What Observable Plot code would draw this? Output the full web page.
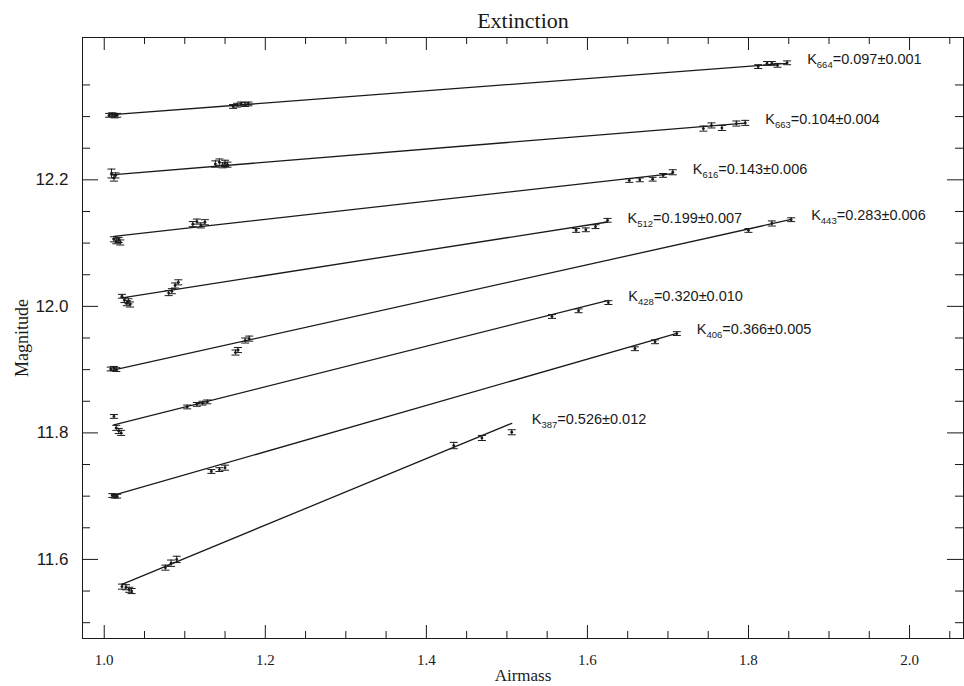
<!DOCTYPE html>
<html>
<head>
<meta charset="utf-8">
<script src="https://cdn.jsdelivr.net/npm/d3@7"></script>
<script src="https://cdn.jsdelivr.net/npm/@observablehq/plot@0.6"></script>
<style>
  body { margin: 0; background: #fff; }
  #chart svg { display: block; }
</style>
</head>
<body>
<div id="chart"></div>
<script>
// Filter bands (nm), fitted extinction coefficients and their errors
const bands = ["664", "663", "616", "512", "443", "428", "406", "387"];
const slopes = [0.097, 0.104, 0.143, 0.199, 0.283, 0.320, 0.366, 0.526];
const slopeErrors = [0.001, 0.004, 0.006, 0.007, 0.006, 0.010, 0.005, 0.012];
// Magnitude of each fitted line at airmass 1.0
const zeroPoints = [12.302, 12.207, 12.109, 12.009, 11.896, 11.809, 11.697, 11.549];

// Observations per band: [airmass, magnitude, 1-sigma error]
const obs664 = [[1.006, 12.302, .003], [1.010, 12.303, .003], [1.013, 12.301, .003], [1.016, 12.302, .003],
  [1.160, 12.316, .003], [1.165, 12.318, .003], [1.170, 12.320, .003], [1.175, 12.319, .003], [1.179, 12.320, .003],
  [1.812, 12.379, .003], [1.823, 12.384, .003], [1.829, 12.384, .003], [1.836, 12.381, .003], [1.848, 12.385, .003]];
const obs663 = [[1.009, 12.210, .007], [1.012, 12.203, .005], [1.014, 12.207, .004],
  [1.138, 12.225, .005], [1.143, 12.228, .005], [1.147, 12.223, .004], [1.150, 12.226, .005], [1.153, 12.224, .004],
  [1.744, 12.281, .004], [1.754, 12.286, .004], [1.767, 12.282, .004], [1.785, 12.289, .004], [1.796, 12.290, .004]];
const obs616 = [[1.012, 12.106, .004], [1.015, 12.103, .004], [1.018, 12.105, .004], [1.020, 12.101, .004],
  [1.110, 12.130, .004], [1.115, 12.134, .004], [1.120, 12.128, .004], [1.125, 12.133, .004],
  [1.652, 12.199, .003], [1.665, 12.200, .003], [1.681, 12.201, .003], [1.694, 12.207, .003], [1.706, 12.212, .004]];
const obs512 = [[1.022, 12.016, .003], [1.025, 12.010, .004], [1.028, 12.005, .004], [1.030, 12.008, .004], [1.032, 12.003, .004],
  [1.080, 12.021, .004], [1.084, 12.024, .004], [1.088, 12.033, .004], [1.092, 12.038, .004],
  [1.586, 12.120, .003], [1.598, 12.121, .003], [1.610, 12.126, .003], [1.625, 12.136, .003]];
const obs443 = [[1.008, 11.901, .003], [1.012, 11.902, .003], [1.015, 11.900, .003],
  [1.163, 11.927, .004], [1.166, 11.931, .004], [1.175, 11.946, .004], [1.180, 11.949, .004],
  [1.800, 12.120, .003], [1.829, 12.131, .004], [1.853, 12.137, .003]];
const obs428 = [[1.012, 11.826, .003], [1.015, 11.808, .004], [1.018, 11.803, .004], [1.021, 11.800, .004],
  [1.103, 11.841, .003], [1.115, 11.845, .003], [1.122, 11.847, .003], [1.128, 11.849, .003],
  [1.556, 11.984, .003], [1.589, 11.993, .003], [1.626, 12.006, .003]];
const obs406 = [[1.010, 11.701, .003], [1.013, 11.700, .003], [1.016, 11.700, .003],
  [1.133, 11.739, .003], [1.143, 11.742, .003], [1.150, 11.745, .004],
  [1.659, 11.933, .003], [1.684, 11.944, .003], [1.711, 11.957, .003]];
const obs387 = [[1.022, 11.557, .004], [1.027, 11.556, .004], [1.031, 11.552, .004], [1.034, 11.550, .004],
  [1.076, 11.587, .004], [1.083, 11.594, .005], [1.090, 11.600, .005],
  [1.434, 11.780, .005], [1.469, 11.792, .004], [1.506, 11.801, .004]];
const observations = [obs664, obs663, obs616, obs512, obs443, obs428, obs406, obs387];

// Axis tick labels
const xTicks = [1.0, 1.2, 1.4, 1.6, 1.8, 2.0];
const yTicks = [11.6, 11.8, 12.0, 12.2];

// ---- layout ----
const W = 964, H = 686;
const M = {top: 37, right: 1, bottom: 48, left: 82};
const frameW = W - M.left - M.right, frameH = H - M.top - M.bottom;
const ink = "#1a1a1a";
const sans = "'Liberation Sans', Arial, sans-serif";
const serif = "'Liberation Serif', 'Times New Roman', serif";

const series = bands.map((band, i) => ({
  band, k: slopes[i], dk: slopeErrors[i], m1: zeroPoints[i], pts: observations[i]
}));
const fit = (s, x) => s.m1 + s.k * (x - 1);

const points = series.flatMap(s => s.pts.map(([x, m, e]) => ({band: s.band, x, m, e})));
const fitLines = series.flatMap(s => d3.extent(s.pts, p => p[0]).map(x => ({band: s.band, x, m: fit(s, x)})));
const labels = series.map(s => {
  const x = d3.max(s.pts, p => p[0]);
  return {x, m: fit(s, x), text: `K${s.band}=${s.k.toFixed(3)}±${s.dk.toFixed(3)}`};
});

// tick positions: major at the labelled values, minor every 0.05
const near = (a, b) => Math.abs(a - b) < 1e-6;
const xMinor = d3.range(20, 42).map(i => i * 0.05).filter(v => !xTicks.some(t => near(t, v)));
const yMinor = d3.range(230, 248).map(i => i * 0.05).filter(v => !yTicks.some(t => near(t, v)));

// horizontal bar used as the error-bar cap
const cap = {draw(ctx, size) { const r = Math.sqrt(size / Math.PI); ctx.moveTo(-r, 0); ctx.lineTo(r, 0); }};

const xMajLen = 13, xMinLen = 7, yMajLen = 16, yMinLen = 8;

const chart = Plot.plot({
  width: W, height: H,
  marginTop: M.top, marginRight: M.right, marginBottom: M.bottom, marginLeft: M.left,
  x: {domain: [0.973, 2.067], axis: null},
  y: {domain: [11.475, 12.425], axis: null},
  style: {background: "#fff", color: ink, fontFamily: sans, overflow: "visible"},
  marks: [
    Plot.frame({stroke: ink, strokeWidth: 1}),
    // inward ticks on all four sides
    Plot.tickX(xTicks, {x: d => d, insetTop: frameH - xMajLen, stroke: ink}),
    Plot.tickX(xMinor, {x: d => d, insetTop: frameH - xMinLen, stroke: ink}),
    Plot.tickX(xTicks, {x: d => d, insetBottom: frameH - xMajLen, stroke: ink}),
    Plot.tickX(xMinor, {x: d => d, insetBottom: frameH - xMinLen, stroke: ink}),
    Plot.tickY(yTicks, {y: d => d, insetRight: frameW - yMajLen, stroke: ink}),
    Plot.tickY(yMinor, {y: d => d, insetRight: frameW - yMinLen, stroke: ink}),
    Plot.tickY(yTicks, {y: d => d, insetLeft: frameW - yMajLen, stroke: ink}),
    Plot.tickY(yMinor, {y: d => d, insetLeft: frameW - yMinLen, stroke: ink}),
    // tick labels
    Plot.text(xTicks, {x: d => d, frameAnchor: "bottom", dy: 22, lineAnchor: "middle", textAnchor: "middle",
      text: d => d.toFixed(1), fontSize: 15, fontFamily: serif, fill: ink, letterSpacing: "0.5px"}),
    Plot.text(yTicks, {y: d => d, frameAnchor: "left", dx: -14, textAnchor: "end", lineAnchor: "middle",
      text: d => d.toFixed(1), fontSize: 17, fill: ink, letterSpacing: "1px"}),
    // axis titles and plot title
    Plot.text(["Airmass"], {frameAnchor: "bottom", dy: 37, lineAnchor: "middle", textAnchor: "middle",
      fontSize: 17, fontFamily: serif, fill: ink, letterSpacing: "2.2px"}),
    Plot.text(["Magnitude"], {frameAnchor: "left", dx: -60, rotate: -90, lineAnchor: "middle", textAnchor: "middle",
      fontSize: 18, fontFamily: serif, fill: ink, letterSpacing: "2px"}),
    Plot.text(["Extinction"], {frameAnchor: "top", dy: -17, lineAnchor: "middle", textAnchor: "middle",
      fontSize: 22, fontFamily: serif, fill: ink, letterSpacing: "1.5px"}),
    // fitted extinction lines
    Plot.line(fitLines, {x: "x", y: "m", z: "band", stroke: ink, strokeWidth: 1.3}),
    // measurements with error bars
    Plot.ruleX(points, {x: "x", y1: d => d.m - d.e, y2: d => d.m + d.e, stroke: ink, strokeWidth: 1}),
    Plot.dot(points, {x: "x", y: d => d.m + d.e, r: 4, symbol: cap, stroke: ink, strokeWidth: 1, fill: "none"}),
    Plot.dot(points, {x: "x", y: d => d.m - d.e, r: 4, symbol: cap, stroke: ink, strokeWidth: 1, fill: "none"}),
    Plot.dot(points, {x: "x", y: "m", r: 1.4, fill: ink, stroke: "none"}),
    // coefficient labels
    Plot.text(labels, {x: "x", y: "m", text: "text", dx: 20, dy: -4, textAnchor: "start", lineAnchor: "middle",
      fontSize: 14.5, fill: ink})
  ]
});

// typeset the band number of each coefficient label as a subscript
d3.select(chart).selectAll("text").each(function () {
  const t = d3.select(this);
  const match = /^K(\d+)(=.*)$/.exec(t.text());
  if (!match) return;
  t.text(null);
  t.append("tspan").text("K");
  t.append("tspan").attr("font-size", 9.5).attr("dy", 4).text(match[1]);
  t.append("tspan").attr("dy", -4).text(match[2]);
});

document.getElementById("chart").append(chart);
</script>
</body>
</html>
